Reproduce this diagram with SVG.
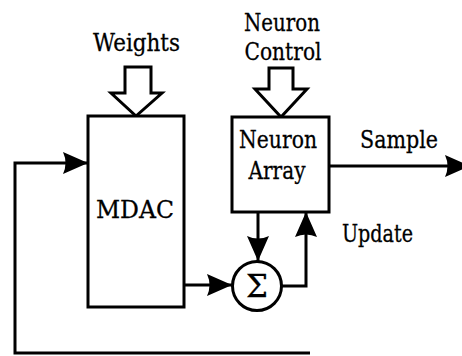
<svg xmlns="http://www.w3.org/2000/svg" width="462" height="356" viewBox="0 0 462 356">
<style>
  .box { fill: #fff; stroke: #000; stroke-width: 3; }
  .hollow { fill: #fff; stroke: #000; stroke-width: 3; stroke-linejoin: miter; }
  .lbl { font-family: 'DejaVu Serif', serif; font-size: 25px; fill: #000; stroke: #000; stroke-width: 0.3; text-anchor: middle; }
  .wire { fill: none; stroke: #000; stroke-width: 3; }
</style>
<defs>
  <marker id="ah" markerUnits="userSpaceOnUse" markerWidth="28" markerHeight="24" refX="25" refY="11" orient="auto">
    <path d="M0,0 L25,11 L0,22 Q5,11 0,0 Z" fill="#000"/>
  </marker>
</defs>
<rect width="462" height="356" fill="#fff"/>

<g id="weights">
  <text class="lbl" x="136.5" y="51" textLength="87" lengthAdjust="spacingAndGlyphs">Weights</text>
  <polygon class="hollow" points="125,67 151,67 151,93 162,93 136,116 111,93 125,93"/>
</g>

<g id="neuron-control">
  <text class="lbl" x="282" y="31" textLength="76" lengthAdjust="spacingAndGlyphs">Neuron</text>
  <text class="lbl" x="283" y="60" textLength="77" lengthAdjust="spacingAndGlyphs">Control</text>
  <polygon class="hollow" points="269,68 293,68 293,89 307,89 281,117 255,89 269,89"/>
</g>

<g id="mdac">
  <rect class="box" x="88" y="116" width="96" height="191"/>
  <text class="lbl" x="135" y="218" textLength="78" lengthAdjust="spacingAndGlyphs">MDAC</text>
</g>

<g id="neuron-array">
  <rect class="box" x="232" y="117" width="97" height="95"/>
  <text class="lbl" x="278" y="148" textLength="78" lengthAdjust="spacingAndGlyphs">Neuron</text>
  <text class="lbl" x="277" y="179" textLength="57" lengthAdjust="spacingAndGlyphs">Array</text>
</g>

<g id="sum">
  <circle cx="257" cy="286" r="24.5" fill="#fff" stroke="#000" stroke-width="3"/>
  <text class="lbl" style="font-size:31px" x="257" y="297">Σ</text>
</g>

<g id="labels">
  <text class="lbl" x="399" y="148" textLength="78" lengthAdjust="spacingAndGlyphs">Sample</text>
  <text class="lbl" x="377.5" y="242" textLength="71" lengthAdjust="spacingAndGlyphs">Update</text>
</g>

<g id="connectors">
  <path class="wire" d="M310,353 L15,353 L15,163 L88,163" marker-end="url(#ah)"/>
  <path class="wire" d="M329,166 L470,166" marker-end="url(#ah)"/>
  <path class="wire" d="M184,285 L232,285" marker-end="url(#ah)"/>
  <path class="wire" d="M258,212 L258,261" marker-end="url(#ah)"/>
  <path class="wire" d="M282,286 L306,286 L306,212" marker-end="url(#ah)"/>
</g>
</svg>
